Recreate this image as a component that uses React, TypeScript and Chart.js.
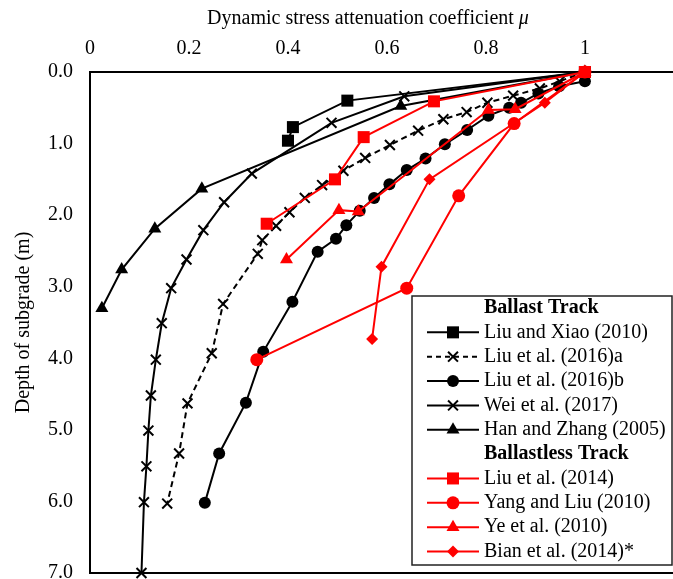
import React, { useEffect, useRef } from "react";
import { Chart, registerables } from "chart.js";

Chart.register(...registerables);

// Axis ticks
const muTicks = [0, 0.2, 0.4, 0.6, 0.8, 1];
const depthTicks = [0, 1, 2, 3, 4, 5, 6, 7];

// Ballast track
const liuXiaoMu = [1, 0.52, 0.41, 0.4];
const liuXiaoDepth = [0, 0.4, 0.77, 0.96];

const liu2016aMu = [1, 0.949, 0.909, 0.855, 0.803, 0.761, 0.714, 0.663, 0.606, 0.556, 0.512, 0.469, 0.434, 0.403, 0.376, 0.348, 0.339, 0.269, 0.246, 0.197, 0.18, 0.156];
const liu2016aDepth = [0, 0.13, 0.23, 0.33, 0.43, 0.56, 0.66, 0.82, 1.02, 1.2, 1.38, 1.58, 1.76, 1.96, 2.15, 2.35, 2.54, 3.24, 3.93, 4.63, 5.33, 6.03];

const liu2016bMu = [1.0, 0.948, 0.906, 0.871, 0.847, 0.805, 0.762, 0.717, 0.678, 0.64, 0.605, 0.574, 0.545, 0.518, 0.497, 0.46, 0.409, 0.35, 0.315, 0.261, 0.232];
const liu2016bDepth = [0.13, 0.2, 0.3, 0.43, 0.5, 0.61, 0.81, 1.01, 1.21, 1.37, 1.57, 1.76, 1.94, 2.14, 2.33, 2.51, 3.21, 3.91, 4.62, 5.33, 6.02];

const wei2017Mu = [1, 0.635, 0.488, 0.327, 0.271, 0.229, 0.195, 0.164, 0.145, 0.133, 0.123, 0.118, 0.114, 0.109, 0.104];
const wei2017Depth = [0, 0.34, 0.71, 1.42, 1.82, 2.21, 2.62, 3.02, 3.51, 4.02, 4.52, 5.01, 5.51, 6.01, 7.0];

const hanZhangMu = [1, 0.628, 0.226, 0.131, 0.064, 0.024];
const hanZhangDepth = [0, 0.475, 1.63, 2.19, 2.76, 3.3];

// Ballastless track
const liu2014Mu = [1, 0.695, 0.553, 0.495, 0.357];
const liu2014Depth = [0, 0.41, 0.91, 1.5, 2.12];

const yangLiuMu = [1, 0.857, 0.745, 0.64, 0.337];
const yangLiuDepth = [0, 0.72, 1.73, 3.02, 4.02];

const ye2010Mu = [1, 0.859, 0.805, 0.542, 0.503, 0.397];
const ye2010Depth = [0, 0.52, 0.53, 1.95, 1.93, 2.62];

const bian2014Mu = [1, 0.919, 0.686, 0.589, 0.57];
const bian2014Depth = [0, 0.43, 1.5, 2.72, 3.73];

const FONT = '"Liberation Serif", "Times New Roman", serif';
const BLACK = "#000000";
const RED = "#ff0000";

type Series = {
  label: string;
  mu: number[];
  depth: number[];
  color: string;
  pointStyle: string;
  radius: number;
  dashed: boolean;
  group: number;
};

const series: Series[] = [
  { label: "Liu and Xiao (2010)", mu: liuXiaoMu, depth: liuXiaoDepth, color: BLACK, pointStyle: "rect", radius: 8.5, dashed: false, group: 0 },
  { label: "Liu et al. (2016)a", mu: liu2016aMu, depth: liu2016aDepth, color: BLACK, pointStyle: "crossRot", radius: 7, dashed: true, group: 0 },
  { label: "Liu et al. (2016)b", mu: liu2016bMu, depth: liu2016bDepth, color: BLACK, pointStyle: "circle", radius: 6, dashed: false, group: 0 },
  { label: "Wei et al. (2017)", mu: wei2017Mu, depth: wei2017Depth, color: BLACK, pointStyle: "crossRot", radius: 7, dashed: false, group: 0 },
  { label: "Han and Zhang (2005)", mu: hanZhangMu, depth: hanZhangDepth, color: BLACK, pointStyle: "triangle", radius: 7.5, dashed: false, group: 0 },
  { label: "Liu et al. (2014)", mu: liu2014Mu, depth: liu2014Depth, color: RED, pointStyle: "rect", radius: 8.5, dashed: false, group: 1 },
  { label: "Yang and Liu (2010)", mu: yangLiuMu, depth: yangLiuDepth, color: RED, pointStyle: "circle", radius: 6.5, dashed: false, group: 1 },
  { label: "Ye et al. (2010)", mu: ye2010Mu, depth: ye2010Depth, color: RED, pointStyle: "triangle", radius: 7.5, dashed: false, group: 1 },
  { label: "Bian et al. (2014)*", mu: bian2014Mu, depth: bian2014Depth, color: RED, pointStyle: "rectRot", radius: 6, dashed: false, group: 1 },
];

function drawMarker(ctx: CanvasRenderingContext2D, style: string, x: number, y: number, r: number, color: string) {
  ctx.save();
  ctx.fillStyle = color;
  ctx.strokeStyle = color;
  ctx.lineWidth = 2;
  ctx.setLineDash([]);
  ctx.beginPath();
  if (style === "rect") {
    const s = Math.SQRT1_2 * r;
    ctx.rect(x - s, y - s, 2 * s, 2 * s);
    ctx.fill();
  } else if (style === "circle") {
    ctx.arc(x, y, r, 0, Math.PI * 2);
    ctx.fill();
  } else if (style === "triangle") {
    for (let i = 0; i < 3; i++) {
      const a = (i * 2 * Math.PI) / 3;
      const px = x + Math.sin(a) * r;
      const py = y - Math.cos(a) * r;
      if (i === 0) ctx.moveTo(px, py);
      else ctx.lineTo(px, py);
    }
    ctx.closePath();
    ctx.fill();
  } else if (style === "rectRot") {
    ctx.moveTo(x - r, y);
    ctx.lineTo(x, y - r);
    ctx.lineTo(x + r, y);
    ctx.lineTo(x, y + r);
    ctx.closePath();
    ctx.fill();
  } else if (style === "crossRot") {
    const d = Math.SQRT1_2 * r;
    ctx.moveTo(x - d, y - d);
    ctx.lineTo(x + d, y + d);
    ctx.moveTo(x + d, y - d);
    ctx.lineTo(x - d, y + d);
    ctx.stroke();
  }
  ctx.restore();
}

const decorPlugin = {
  id: "decor",
  afterDraw(chart: any) {
    const { ctx, chartArea } = chart;
    ctx.save();
    // bottom frame line
    ctx.strokeStyle = BLACK;
    ctx.lineWidth = 2;
    ctx.beginPath();
    ctx.moveTo(chartArea.left - 1, chartArea.bottom);
    ctx.lineTo(chartArea.right, chartArea.bottom);
    ctx.stroke();

    // x-axis title (top)
    const t1 = "Dynamic stress attenuation coefficient ";
    const t2 = "\u03bc";
    ctx.fillStyle = BLACK;
    ctx.textBaseline = "middle";
    ctx.textAlign = "left";
    ctx.font = `20px ${FONT}`;
    const w1 = ctx.measureText(t1).width;
    ctx.font = `italic 20px ${FONT}`;
    const w2 = ctx.measureText(t2).width;
    const startX = 368 - (w1 + w2) / 2;
    ctx.font = `20px ${FONT}`;
    ctx.fillText(t1, startX, 19);
    ctx.font = `italic 20px ${FONT}`;
    ctx.fillText(t2, startX + w1, 19);

    // legend
    const bx = 412, by = 296, bw = 260, bh = 269;
    ctx.fillStyle = "#ffffff";
    ctx.fillRect(bx, by, bw, bh);
    ctx.strokeStyle = "#222222";
    ctx.lineWidth = 1.5;
    ctx.strokeRect(bx, by, bw, bh);

    const rowY = (i: number) => 308 + i * 24.35;
    const lineX0 = 427, lineX1 = 479, markX = 453, textX = 484;
    ctx.textBaseline = "middle";
    ctx.textAlign = "left";
    ctx.fillStyle = BLACK;
    ctx.font = `bold 20px ${FONT}`;
    ctx.fillText("Ballast Track", textX, rowY(0));
    ctx.fillText("Ballastless Track", textX, rowY(6));

    let row = 1;
    series.forEach((s, idx) => {
      if (idx === 5) row = 7;
      const y = rowY(row);
      ctx.save();
      ctx.strokeStyle = s.color;
      ctx.lineWidth = 2;
      ctx.setLineDash(s.dashed ? [5, 4] : []);
      ctx.beginPath();
      ctx.moveTo(lineX0, y);
      ctx.lineTo(lineX1, y);
      ctx.stroke();
      ctx.restore();
      drawMarker(ctx, s.pointStyle, markX, y, s.radius, s.color);
      ctx.fillStyle = BLACK;
      ctx.font = `20px ${FONT}`;
      ctx.fillText(s.label, textX, y);
      row++;
    });
    ctx.restore();
  },
};

const zeroPad = (scale: any) => {
  scale.paddingTop = 0;
  scale.paddingBottom = 0;
  scale.paddingLeft = 0;
  scale.paddingRight = 0;
};

export default function App() {
  const canvasRef = useRef<HTMLCanvasElement | null>(null);

  useEffect(() => {
    if (!canvasRef.current) return;
    const datasets = series.map((s) => ({
      label: s.label,
      data: s.mu.map((m, i) => ({ x: m, y: s.depth[i] })),
      showLine: true,
      borderColor: s.color,
      backgroundColor: s.color,
      borderWidth: 2,
      borderDash: s.dashed ? [6, 4] : [],
      pointStyle: s.pointStyle as any,
      pointRadius: s.radius,
      pointHoverRadius: s.radius,
      pointBorderWidth: s.pointStyle === "crossRot" ? 2 : 0,
      pointBorderColor: s.color,
      pointBackgroundColor: s.color,
      tension: 0,
      clip: false as any,
      order: s.group === 1 ? 0 : 1,
    }));

    const chart = new Chart(canvasRef.current, {
      type: "scatter",
      data: { datasets },
      options: {
        animation: false,
        responsive: false,
        maintainAspectRatio: false,
        layout: { autoPadding: false, padding: { top: 0, bottom: 6, left: 0, right: 0 } },
        plugins: {
          legend: { display: false },
          tooltip: { enabled: false },
          title: { display: false },
        },
        scales: {
          x: {
            type: "linear",
            position: "top",
            min: 0,
            max: 1.178,
            afterFit: (scale: any) => {
              scale.height = 72;
              zeroPad(scale);
            },
            afterBuildTicks: (scale: any) => {
              scale.ticks = muTicks.map((v) => ({ value: v }));
            },
            ticks: {
              color: BLACK,
              font: { family: FONT, size: 20 },
              padding: 11,
              callback: (v: any) => String(Number(v)),
              maxRotation: 0,
              autoSkip: false,
            },
            grid: { display: false, drawTicks: false },
            border: { display: true, color: BLACK, width: 2 },
          },
          y: {
            type: "linear",
            position: "left",
            reverse: true,
            min: 0,
            max: 7,
            afterFit: (scale: any) => {
              scale.width = 90;
              zeroPad(scale);
            },
            afterBuildTicks: (scale: any) => {
              scale.ticks = depthTicks.map((v) => ({ value: v }));
            },
            ticks: {
              color: BLACK,
              font: { family: FONT, size: 20 },
              padding: 17,
              callback: (v: any) => Number(v).toFixed(1),
              autoSkip: false,
            },
            title: {
              display: true,
              text: "Depth of subgrade (m)",
              color: BLACK,
              font: { family: FONT, size: 20 },
              padding: { top: 12, bottom: 0 },
            },
            grid: { display: false, drawTicks: false },
            border: { display: true, color: BLACK, width: 2 },
          },
        },
      },
      plugins: [decorPlugin],
    });
    return () => chart.destroy();
  }, []);

  return (
    <div style={{ position: "fixed", left: 0, top: 0, width: 673, height: 579, background: "#fff" }}>
      <canvas ref={canvasRef} width={673} height={579} style={{ display: "block", width: 673, height: 579 }} />
    </div>
  );
}
